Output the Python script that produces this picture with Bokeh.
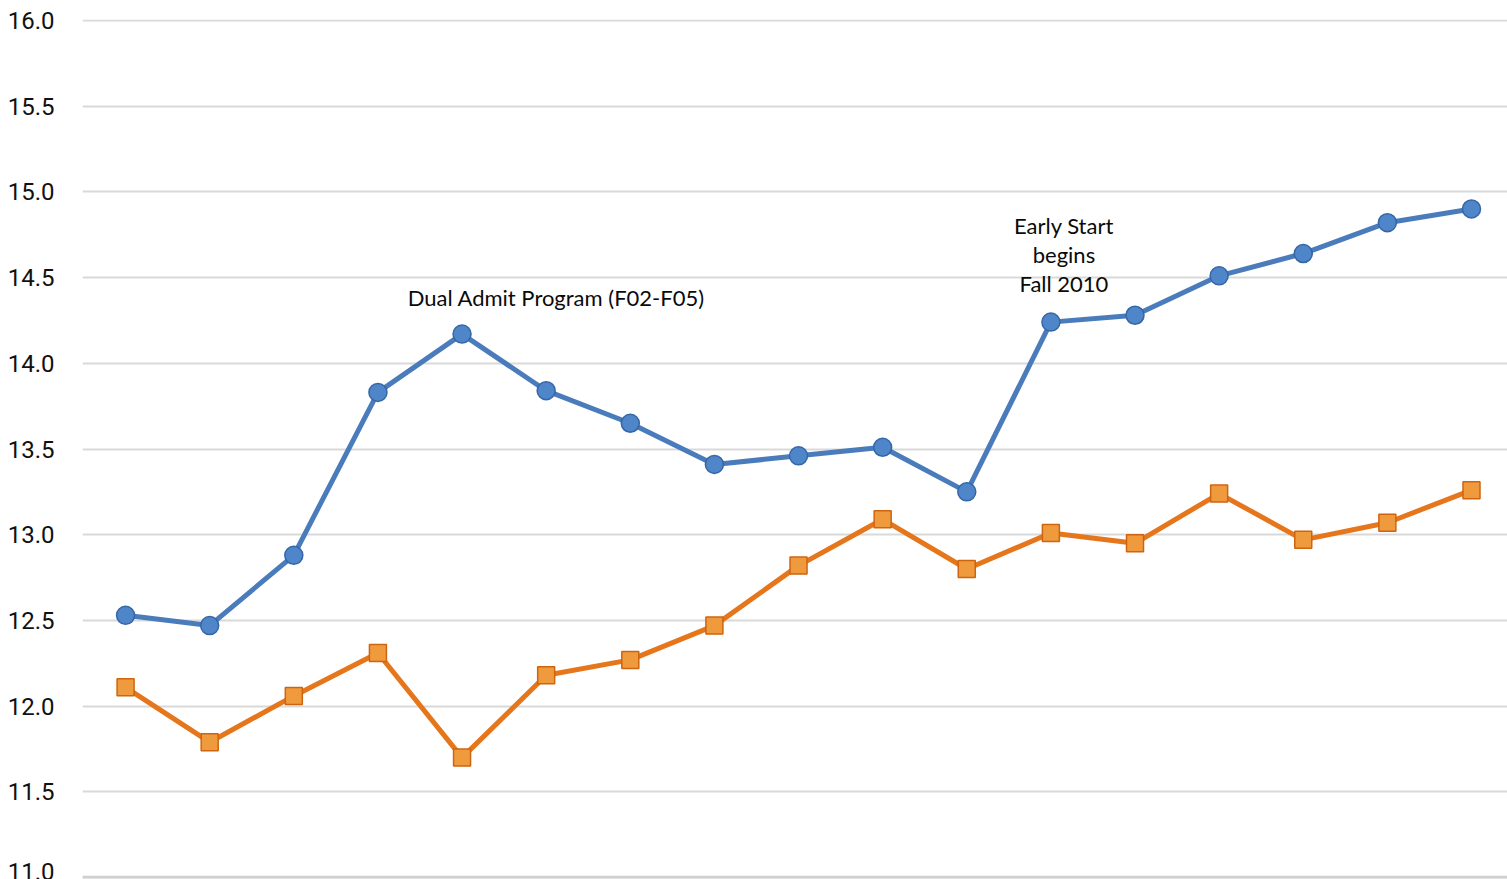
from bokeh.plotting import figure
from bokeh.models import Range1d, Span, Label
from bokeh.embed import file_html
from bokeh.resources import INLINE

terms = ["F99", "F00", "F01", "F02", "F03", "F04", "F05", "F06", "F07",
         "F08", "F09", "F10", "F11", "F12", "F13", "F14", "F15"]
series_a = [12.53, 12.47, 12.88, 13.83, 14.17, 13.84, 13.65, 13.41, 13.46,
            13.51, 13.25, 14.24, 14.28, 14.51, 14.64, 14.82, 14.90]
series_b = [12.11, 11.79, 12.06, 12.31, 11.70, 12.18, 12.27, 12.47, 12.82,
            13.09, 12.80, 13.01, 12.95, 13.24, 12.97, 13.07, 13.26]
y_ticks = [11.0, 11.5, 12.0, 12.5, 13.0, 13.5, 14.0, 14.5, 15.0, 15.5, 16.0]

x = list(range(len(terms)))

p = figure(width=1507, height=879, output_backend="svg", toolbar_location=None,
           x_range=Range1d(-0.512, 16.428), y_range=Range1d(10.995, 16.005),
           min_border_left=82, min_border_right=0, min_border_top=19,
           min_border_bottom=1)
p.outline_line_color = None
p.xaxis.visible = False
p.xgrid.visible = False
p.ygrid.grid_line_color = "#d9d9d9"
p.ygrid.grid_line_width = 2
p.yaxis.ticker = y_ticks
p.yaxis.major_label_overrides = {t: f"{t:.1f}" for t in y_ticks}
p.yaxis.axis_line_color = None
p.yaxis.major_tick_line_color = None
p.yaxis.minor_tick_line_color = None
p.yaxis.major_label_text_font = "Roboto"
p.yaxis.major_label_text_font_size = "24px"
p.yaxis.major_label_text_color = "#111111"
p.yaxis.major_label_standoff = 22

p.add_layout(Span(location=11.0, dimension="width", line_color="#d0d0d0", line_width=4))

p.line(x, series_a, line_color="#4a7cbc", line_width=5)
p.scatter(x, series_a, marker="circle", size=18, fill_color="#4f86c9",
          line_color="#3566a6", line_width=1.5)
p.line(x, series_b, line_color="#e5761b", line_width=5)
p.scatter(x, series_b, marker="square", size=17, fill_color="#f09a3e",
          line_color="#cf6410", line_width=1.5)

font = "Lato"
p.add_layout(Label(x=5.12, y=14.384, text="Dual Admit Program (F02-F05)",
                   text_align="center", text_baseline="middle",
                   text_font=font, text_font_size="22px", text_color="#0a0a0a"))
for i, line in enumerate(["Early Start", "begins", "Fall 2010"]):
    p.add_layout(Label(x=11.155, y=14.804 - i * 0.169, text=line,
                       text_align="center", text_baseline="middle",
                       text_font=font, text_font_size="22px", text_color="#0a0a0a"))

open("out.html", "w").write(file_html(p, INLINE))
